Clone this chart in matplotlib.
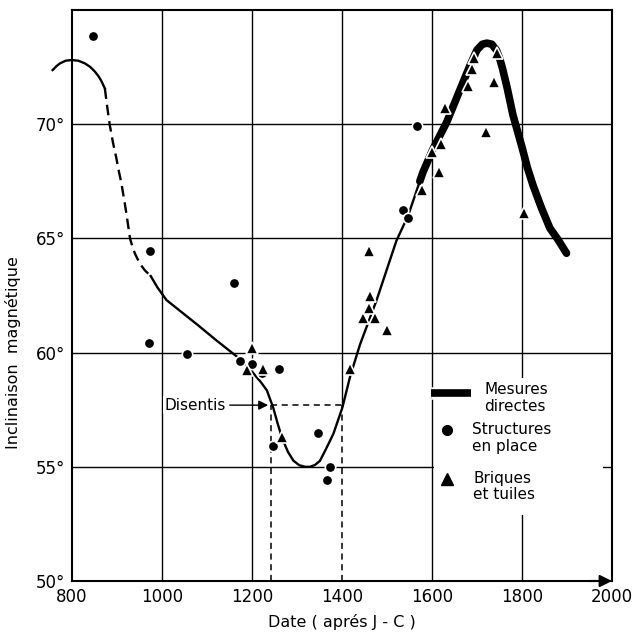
import matplotlib
matplotlib.use("Agg")
import matplotlib.pyplot as plt
import matplotlib.patheffects as pe
from matplotlib.patches import Rectangle

# Courbe d'inclinaison
early_years = [757, 766, 773, 786, 799, 814, 829, 841, 851, 860, 866, 873]
early_incl = [72.37, 72.55, 72.66, 72.78, 72.81, 72.78, 72.66, 72.5, 72.3, 72.07, 71.86, 71.57]

dashed_years = [873, 878, 884, 891, 898, 904, 910, 921, 929, 935, 940, 951, 962, 975]
dashed_incl = [71.57, 70.8, 69.96, 69.2, 68.57, 67.95, 67.4, 66.08, 64.99, 64.6, 64.33, 63.89, 63.6, 63.35]

main_years = [975, 990, 1010, 1045, 1080, 1120, 1170, 1202, 1220, 1233, 1247, 1257, 1267,
              1280, 1292, 1305, 1318, 1329, 1340, 1351, 1365, 1381, 1401, 1418, 1440, 1477,
              1521, 1547, 1560, 1573]
main_incl = [63.35, 62.85, 62.3, 61.75, 61.2, 60.55, 59.77, 59.12, 58.7, 58.35, 57.6, 56.9, 56.25,
             55.65, 55.27, 55.07, 55.0, 55.0, 55.08, 55.26, 55.8, 56.45, 57.6, 58.95, 60.35, 62.3,
             64.9, 66.0, 66.75, 67.5]

direct_years = [1573, 1580, 1602, 1633, 1660, 1684, 1700, 1712, 1722, 1733, 1743, 1750, 1756,
                1767, 1780, 1800, 1812, 1825, 1843, 1862, 1880, 1899]
direct_incl = [67.5, 67.9, 68.9, 70.1, 71.4, 72.55, 73.25, 73.5, 73.55, 73.5, 73.25, 72.9, 72.5,
               71.6, 70.4, 69.0, 68.1, 67.3, 66.35, 65.45, 64.95, 64.35]

# Structures en place (cercles)
struct_years = [847, 971, 973, 1055, 1160, 1173, 1200, 1222, 1246, 1260, 1346, 1366, 1373,
                1536, 1547, 1567]
struct_incl = [73.86, 60.44, 64.43, 59.96, 63.03, 59.65, 59.5, 59.1, 55.89, 59.3, 56.5, 54.43, 54.97,
               66.23, 65.88, 69.9]

# Briques et tuiles (triangles)
brick_years = [1189, 1200, 1225, 1266, 1418, 1447, 1460, 1460, 1462, 1473, 1500, 1577, 1601,
               1616, 1621, 1630, 1681, 1688, 1694, 1721, 1738, 1745, 1805]
brick_incl = [59.25, 60.2, 59.3, 56.3, 59.3, 61.5, 64.47, 61.97, 62.46, 61.5, 61.0, 67.1, 68.79,
              67.9, 69.12, 70.69, 71.68, 72.41, 72.92, 69.66, 71.86, 73.1, 66.11]

disentis_year = 1242
disentis_incl = 57.7
disentis_window = [1242, 1400]

x_ticks = [800, 1000, 1200, 1400, 1600, 1800, 2000]
y_ticks = [50, 55, 60, 65, 70]
y_tick_labels = ["50°", "55°", "60°", "65°", "70°"]

plt.rcParams["font.family"] = "DejaVu Sans"

fig = plt.figure(figsize=(6.36, 6.37), dpi=100)
ax = fig.add_axes([0.1132, 0.0879, 0.849, 0.8964])
ax.set_xlim(800, 2000)
ax.set_ylim(50, 75)

# grille (la ligne 1400 devient pointillée sous Disentis)
for x in x_ticks[1:-1]:
    ymin = disentis_incl if x == disentis_window[1] else 50
    ax.vlines(x, ymin, 75, color="black", lw=1.0, zorder=1)
for y in y_ticks[1:]:
    ax.hlines(y, 800, 2000, color="black", lw=1.0, zorder=1)

# Disentis
ax.hlines(disentis_incl, disentis_window[0], disentis_window[1], color="black", lw=1.1,
          linestyles=(0, (4, 3)), zorder=2)
ax.vlines(disentis_window, 50, disentis_incl, color="black", lw=1.1,
          linestyles=(0, (4, 3)), zorder=2)
ax.annotate("Disentis", xy=(disentis_year - 6, disentis_incl), xytext=(1005, disentis_incl),
            ha="left", va="center", fontsize=11,
            bbox=dict(fc="white", ec="none", pad=1),
            arrowprops=dict(arrowstyle="-|>", color="black", lw=1.0, shrinkA=2, shrinkB=0,
                            mutation_scale=14),
            zorder=5)

# courbe
ax.plot(early_years, early_incl, color="black", lw=1.7, clip_on=False, zorder=3)
ax.plot(dashed_years, dashed_incl, color="black", lw=1.7, linestyle=(0, (4.5, 2.5)), zorder=3)
ax.plot(main_years, main_incl, color="black", lw=1.7, zorder=3)
ax.plot(direct_years, direct_incl, color="black", lw=5.5, solid_capstyle="round", zorder=3)

# points
ax.plot(struct_years, struct_incl, "o", color="black", ms=7.5, mec="white", mew=1.2, zorder=4,
        clip_on=False)
ax.plot(brick_years, brick_incl, "^", color="black", ms=8.5, mec="white", mew=1.2, zorder=4)

# légende dessinée à la main
ax.add_patch(Rectangle((1605, 52.9), 375, 6.0, facecolor="white", edgecolor="none", zorder=2.5))
ax.plot([1597, 1686], [58.25, 58.25], color="black", lw=5.5, solid_capstyle="butt", zorder=4,
        path_effects=[pe.Stroke(linewidth=9, foreground="white"), pe.Normal()])
ax.text(1716, 58.0, "Mesures\ndirectes", ha="left", va="center", fontsize=11,
        linespacing=1.15, zorder=5)
ax.plot([1633], [56.62], "o", color="black", ms=7, zorder=4)
ax.text(1690, 56.25, "Structures\nen place", ha="left", va="center", fontsize=11,
        linespacing=1.15, zorder=5)
ax.plot([1633], [54.47], "^", color="black", ms=8, zorder=4)
ax.text(1692, 54.14, "Briques\net tuiles", ha="left", va="center", fontsize=11,
        linespacing=1.15, zorder=5)

# axes
for side in ["left", "bottom", "top", "right"]:
    ax.spines[side].set_linewidth(1.5)
ax.annotate("", xy=(2000, 50), xytext=(1950, 50),
            arrowprops=dict(arrowstyle="-|>", color="black", lw=1.5, mutation_scale=18,
                            shrinkA=0, shrinkB=0),
            annotation_clip=False, zorder=6)

ax.set_xticks(x_ticks)
ax.set_yticks(y_ticks)
ax.set_yticklabels(y_tick_labels)
ax.tick_params(length=0, labelsize=12, pad=5)

ax.set_xlabel("Date ( aprés J - C )", fontsize=11.5, labelpad=6)
ax.set_ylabel("Inclinaison  magnétique", fontsize=11.5)
ax.yaxis.set_label_coords(-0.094, 0.40)

fig.savefig("out.png", dpi=100)
